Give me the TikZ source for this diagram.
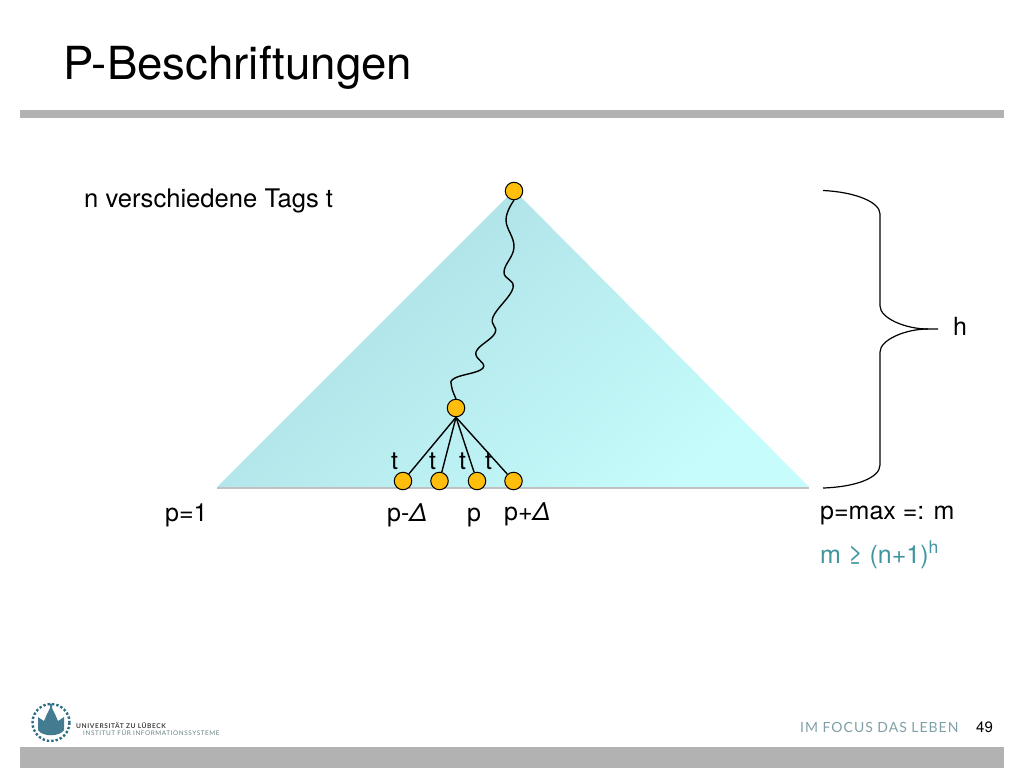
\documentclass[tikz,border=0pt]{standalone}
\usepackage{fontspec}
\setmainfont{TeX Gyre Heros}
\newfontfamily\focusfont[LetterSpace=7]{Lato}
\newfontfamily\unifont[LetterSpace=9]{Lato}
\newcommand{\px}[1]{\fontsize{#1}{#1}\selectfont}
\definecolor{barcol}{HTML}{B2B2B2}
\definecolor{dotcol}{HTML}{FFBE0B}
\definecolor{tealtxt}{HTML}{3F969F}
\definecolor{sealcol}{HTML}{2F6D85}
\definecolor{footcol}{HTML}{7F9FA6}
\definecolor{tridark}{HTML}{ABDDE3}
\definecolor{trilight}{HTML}{C6FCFC}
\tikzset{
  dot/.style={circle,draw=black,fill=dotcol,line width=1pt,minimum size=17.5pt,inner sep=0pt},
  lab/.style={anchor=base west,inner sep=0pt,font=\px{25}},
  edge/.style={line width=1.4pt,black},
}
\begin{document}
\begin{tikzpicture}[x=1pt,y=-1pt]
    \useasboundingbox (0,0) rectangle (1024,768);

    \fill[barcol] (20,110) rectangle (1004,118);
    \fill[barcol] (20,747) rectangle (1004,768);
    \node[anchor=base west,inner sep=0pt,font=\px{45.6}] (title) at (63,79) {P-Beschriftungen};

    \shade[shading=axis,left color=tridark,right color=trilight,shading angle=40]
      (514,190) -- (809,487) -- (217,487) -- cycle;
    \draw[black!40,line width=2pt,opacity=0.6] (217,487.5) -- (809,487.5);

    \node[dot] (top) at (514,191) {};
    \node[dot] (mid) at (456,408) {};
    \node[dot] (leafa) at (403,481) {};
    \node[dot] (leafb) at (439.5,481) {};
    \node[dot] (leafc) at (477,481) {};
    \node[dot] (leafd) at (513.5,481) {};

    \draw[edge] plot[smooth,tension=0.7] coordinates {(top.south) (506,220) (514,247) (504,272) (513,288)
      (493,317) (495,333) (476,352) (483,368) (455,378) (451.5,386) (mid.north)};
    \draw[edge] (mid.south) -- (leafa);
    \draw[edge] (mid.south) -- (leafb);
    \draw[edge] (mid.south) -- (leafc);
    \draw[edge] (mid.south) -- (leafd);

    \node[lab,font=\px{25.6}] (tagsn) at (84,207) {n verschiedene Tags t};
    \node[lab] (ta) at (391,469) {t};
    \node[lab] (tb) at (429,469) {t};
    \node[lab] (tc) at (459,469) {t};
    \node[lab] (td) at (485,469) {t};
    \node[lab] (pone) at (165,521) {p=1};
    \node[lab] (pminus) at (387,521) {p-{\itshape Δ}};
    \node[lab] (pp) at (467,521) {p};
    \node[lab] (pplus) at (504,520) {p+{\itshape Δ}};
    \node[lab] (pmax) at (820,519) {p=max =: m};
    \node[lab,text=tealtxt] (bound) at (820,563) {m ≥ (n+1)\textsuperscript{h}};
    \node[lab] (hh) at (953,335) {h};

    \coordinate (bracetop) at (823,190.5);
    \coordinate (bracebot) at (823,488);
    \coordinate (bracetip) at (938,329);
    \draw[line width=1.2pt] (bracetop) .. controls (855,192) and (880,202) .. (880,214)
      -- (880,306) .. controls (880,318) and (905,329) .. (928,329) -- (bracetip);
    \draw[line width=1.2pt] (928,329) .. controls (905,329) and (880,340) .. (880,352)
      -- (880,465) .. controls (880,478) and (855,487) .. (bracebot);

    % footer
    \draw[sealcol,line width=2.4pt,dotted] (51,722.5) circle (18.5);
    \fill[sealcol,opacity=0.9] (38,717) -- (44,721) -- (47,714) -- (50,708) -- (50,703.5) -- (52,703.5) -- (52,708) -- (55,714) -- (58,721) -- (64,717)
      -- (64,730) .. controls (60,737) and (42,737) .. (38,730) -- cycle;
    \node[anchor=base west,inner sep=0pt,text=black!75,font=\unifont\bfseries\px{6.6}] (uni) at (76,728) {UNIVERSITÄT ZU LÜBECK};
    \node[anchor=base west,inner sep=0pt,text=footcol!80!black,font=\unifont\px{6.4}] (inst) at (83,735) {INSTITUT FÜR INFORMATIONSSYSTEME};
    \node[anchor=base west,inner sep=0pt,text=footcol,font=\focusfont\px{14}] (focus) at (800,732) {IM FOCUS DAS LEBEN};
    \node[anchor=base west,inner sep=0pt,font=\px{15}] (pagenr) at (976,732) {49};
\end{tikzpicture}
\end{document}
